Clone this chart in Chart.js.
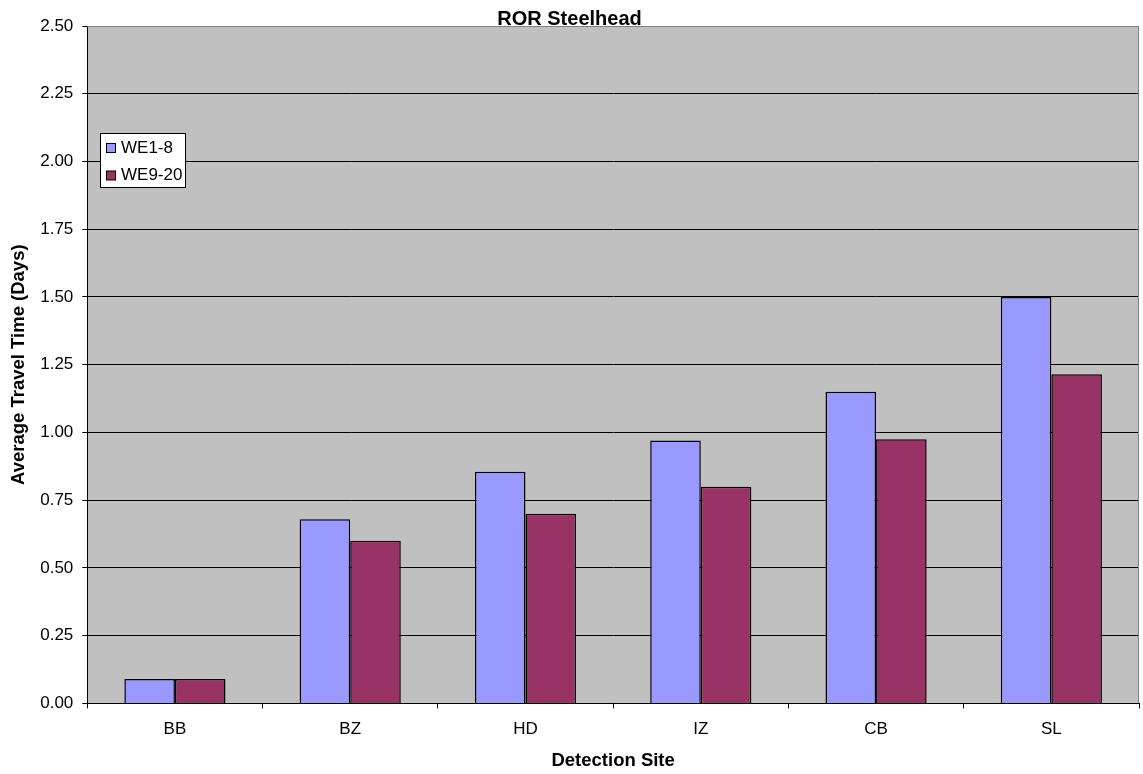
<!DOCTYPE html>
<html>
<head>
<meta charset="utf-8">
<script src="https://cdn.jsdelivr.net/npm/chart.js@4"></script>
<style>
  body { margin: 0; background: #fff; }
  canvas { display: block; }
</style>
</head>
<body>
<canvas id="ChartTravel" width="1143" height="774"></canvas>
<script>
const categorias = ['BB', 'BZ', 'HD', 'IZ', 'CB', 'SL']
const serieWE1_8 = [0.09, 0.68, 0.855, 0.97, 1.15, 1.50]
const serieWE9_20 = [0.09, 0.60, 0.70, 0.80, 0.975, 1.215]
const nombresSeries = ['WE1-8', 'WE9-20']
const coloresSeries = ['#9999FF', '#993366']

const fuente = "Arial, 'Liberation Sans', sans-serif"

// fondo gris del area de trazado y borde gris arriba/derecha
const fondoPlot = {
    id: 'fondoPlot',
    beforeDraw(chart) {
        const { ctx, chartArea: a } = chart
        ctx.save()
        ctx.fillStyle = '#C0C0C0'
        ctx.fillRect(a.left, a.top, a.right - a.left, a.bottom - a.top)
        ctx.restore()
    },
    afterDraw(chart) {
        const { ctx, chartArea: a } = chart
        ctx.save()
        ctx.strokeStyle = '#808080'
        ctx.lineWidth = 1
        ctx.beginPath()
        ctx.moveTo(Math.round(a.left) + 0.5, Math.round(a.top) + 0.5)
        ctx.lineTo(Math.round(a.right) - 0.5, Math.round(a.top) + 0.5)
        ctx.lineTo(Math.round(a.right) - 0.5, Math.round(a.bottom))
        ctx.stroke()
        ctx.restore()
    }
}

// leyenda dentro del grafico, con caja blanca
const leyendaCaja = {
    id: 'leyendaCaja',
    afterDraw(chart) {
        const { ctx } = chart
        const x = 100.5, y = 133.5, w = 85, h = 54
        ctx.save()
        ctx.fillStyle = '#fff'
        ctx.fillRect(x, y, w, h)
        ctx.strokeStyle = '#000'
        ctx.lineWidth = 1
        ctx.strokeRect(x, y, w, h)
        chart.data.datasets.forEach((ds, i) => {
            const cy = 148 + i * 27.5
            ctx.fillStyle = ds.backgroundColor
            ctx.fillRect(106.5, cy - 4.5, 9, 9)
            ctx.strokeStyle = '#000'
            ctx.strokeRect(106.5, cy - 4.5, 9, 9)
            ctx.fillStyle = '#000'
            ctx.font = '17px ' + fuente
            ctx.textBaseline = 'middle'
            ctx.textAlign = 'left'
            ctx.fillText(ds.label, 121, cy)
        })
        ctx.restore()
    }
}

const ChartTravel = document.getElementById('ChartTravel')

new Chart(ChartTravel, {
    type: 'bar',
    data: {
        labels: categorias,
        datasets: [{
            label: nombresSeries[0],
            data: serieWE1_8,
            backgroundColor: coloresSeries[0],
            borderColor: '#000',
            borderWidth: 1.5,
            categoryPercentage: 0.577,
            barPercentage: 1
        }, {
            label: nombresSeries[1],
            data: serieWE9_20,
            backgroundColor: coloresSeries[1],
            borderColor: '#000',
            borderWidth: 1.5,
            categoryPercentage: 0.577,
            barPercentage: 1
        }]
    },
    options: {
        responsive: false,
        animation: false,
        layout: { padding: { top: 13, right: 4, bottom: 0, left: 0 } },
        plugins: {
            legend: { display: false },
            tooltip: { enabled: false },
            title: {
                display: true,
                text: 'ROR Steelhead',
                color: '#000',
                font: { family: fuente, size: 20, weight: 'bold', lineHeight: 0.65 },
                padding: 0
            }
        },
        scales: {
            x: {
                grid: {
                    display: true,
                    drawOnChartArea: false,
                    offset: true,
                    tickLength: 5,
                    color: '#000'
                },
                border: { color: '#000', width: 1 },
                ticks: {
                    color: '#000',
                    font: { family: fuente, size: 17 },
                    padding: 10.5,
                    maxRotation: 0
                },
                title: {
                    display: true,
                    text: 'Detection Site',
                    color: '#000',
                    font: { family: fuente, size: 18.5, weight: 'bold' },
                    padding: { top: 0, bottom: 2 }
                }
            },
            y: {
                min: 0,
                max: 2.5,
                grid: {
                    color: (c) => c.tick && c.tick.value === 2.5 ? '#808080' : '#000',
                    tickColor: '#000',
                    tickLength: 5,
                    lineWidth: 1
                },
                border: { color: '#000', width: 1 },
                ticks: {
                    stepSize: 0.25,
                    color: '#000',
                    font: { family: fuente, size: 17 },
                    padding: 9,
                    callback: (v) => Number(v).toFixed(2)
                },
                title: {
                    display: true,
                    text: 'Average Travel Time (Days)',
                    color: '#000',
                    font: { family: fuente, size: 18.5, weight: 'bold' },
                    padding: { top: 8, bottom: 1 }
                }
            }
        }
    },
    plugins: [fondoPlot, leyendaCaja]
})
</script>
</body>
</html>
